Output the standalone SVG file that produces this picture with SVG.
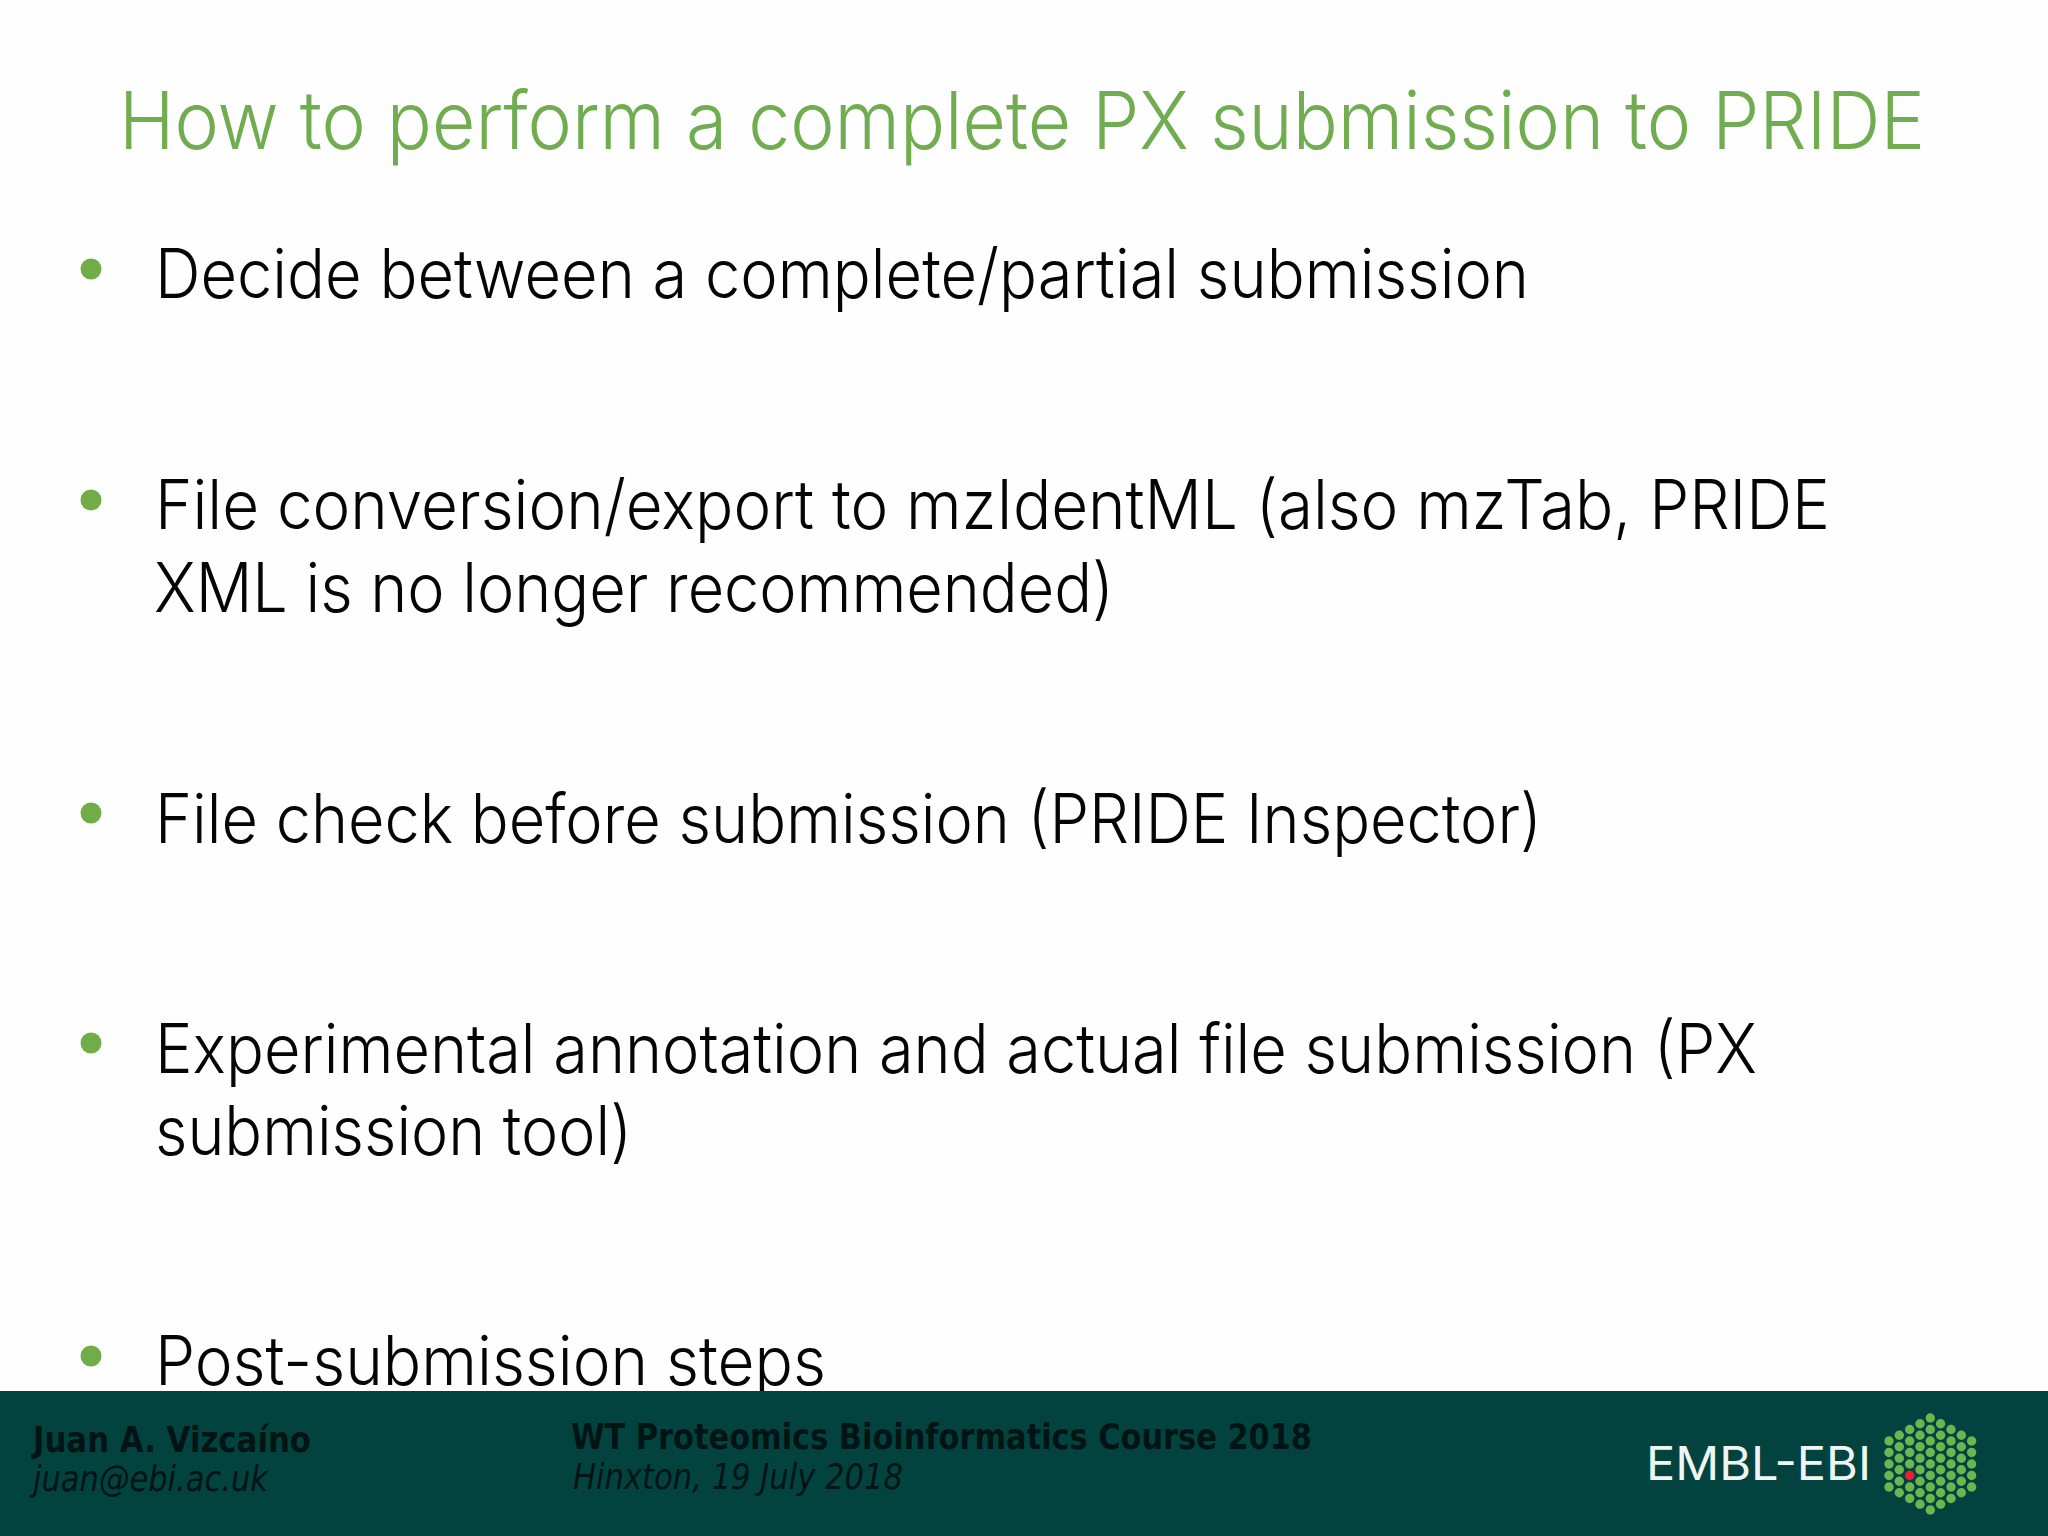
<svg xmlns="http://www.w3.org/2000/svg" xmlns:xlink="http://www.w3.org/1999/xlink" width="2048" height="1536" viewBox="0 0 2048 1536">
<style>
.t{font-family:"Inter","Liberation Sans",sans-serif;font-weight:300}
.title{font-size:80px;fill:#70ad50}
.b{font-size:68px;fill:#050505}
.bu{fill:#70ad47}
.f{font-family:"DejaVu Sans","Liberation Sans",sans-serif;font-size:35px;fill:#001414}
.fb{font-weight:700}
.fi{font-style:italic}
.d{fill:#6cb650}
</style>
<defs><circle id="d" r="4.7"/></defs>
<rect width="2048" height="1536" fill="#fefefe"/>
<text class="t title" x="119" y="149" textLength="1806" lengthAdjust="spacingAndGlyphs">How to perform a complete PX submission to PRIDE</text>
<g id="bullets">
<ellipse class="bu" cx="91" cy="269" rx="10.5" ry="10.5"/>
<ellipse class="bu" cx="91" cy="500" rx="10.5" ry="10.5"/>
<ellipse class="bu" cx="91" cy="813" rx="10.5" ry="10.5"/>
<ellipse class="bu" cx="91" cy="1043" rx="10.5" ry="10.5"/>
<ellipse class="bu" cx="91" cy="1356" rx="10.5" ry="10.5"/>
</g>
<g id="body">
<text class="t b" x="155" y="298" textLength="1374" lengthAdjust="spacingAndGlyphs">Decide between a complete/partial submission</text>
<text class="t b" x="155" y="529" textLength="1675" lengthAdjust="spacingAndGlyphs">File conversion/export to mzIdentML (also mzTab, PRIDE</text>
<text class="t b" x="154" y="612" textLength="960" lengthAdjust="spacingAndGlyphs">XML is no longer recommended)</text>
<text class="t b" x="155" y="843" textLength="1387" lengthAdjust="spacingAndGlyphs">File check before submission (PRIDE Inspector)</text>
<text class="t b" x="155" y="1073" textLength="1602" lengthAdjust="spacingAndGlyphs">Experimental annotation and actual file submission (PX</text>
<text class="t b" x="155" y="1155" textLength="477" lengthAdjust="spacingAndGlyphs">submission tool)</text>
<text class="t b" x="155" y="1385" textLength="671" lengthAdjust="spacingAndGlyphs">Post-submission steps</text>
</g>
<rect id="band" x="0" y="1391" width="2048" height="145" fill="#03433f"/>
<g id="footer">
<text class="f fb" x="33" y="1452" textLength="278" lengthAdjust="spacingAndGlyphs">Juan A. Vizcaíno</text>
<text class="f fi" x="33" y="1491" textLength="235" lengthAdjust="spacingAndGlyphs">juan@ebi.ac.uk</text>
<text class="f fb" x="571" y="1449" textLength="741" lengthAdjust="spacingAndGlyphs">WT Proteomics Bioinformatics Course 2018</text>
<text class="f fi" x="573" y="1489" textLength="330" lengthAdjust="spacingAndGlyphs">Hinxton, 19 July 2018</text>
</g>
<g id="logo">
<text x="1646" y="1480" font-family="Inter, Liberation Sans, sans-serif" font-weight="400" font-size="46" fill="#eef5f3" textLength="225" lengthAdjust="spacingAndGlyphs">EMBL-EBI</text>
<g class="d">
<use xlink:href="#d" x="1889" y="1441"/><use xlink:href="#d" x="1889" y="1452.5"/><use xlink:href="#d" x="1889" y="1464"/><use xlink:href="#d" x="1889" y="1475.5"/><use xlink:href="#d" x="1889" y="1487"/>
<use xlink:href="#d" x="1899.3" y="1435.25"/><use xlink:href="#d" x="1899.3" y="1446.75"/><use xlink:href="#d" x="1899.3" y="1458.25"/><use xlink:href="#d" x="1899.3" y="1469.75"/><use xlink:href="#d" x="1899.3" y="1481.25"/><use xlink:href="#d" x="1899.3" y="1492.75"/>
<use xlink:href="#d" x="1909.7" y="1429.5"/><use xlink:href="#d" x="1909.7" y="1441"/><use xlink:href="#d" x="1909.7" y="1452.5"/><use xlink:href="#d" x="1909.7" y="1464"/><use xlink:href="#d" x="1909.7" y="1487"/><use xlink:href="#d" x="1909.7" y="1498.5"/>
<use xlink:href="#d" x="1920" y="1423.75"/><use xlink:href="#d" x="1920" y="1435.25"/><use xlink:href="#d" x="1920" y="1446.75"/><use xlink:href="#d" x="1920" y="1458.25"/><use xlink:href="#d" x="1920" y="1469.75"/><use xlink:href="#d" x="1920" y="1481.25"/><use xlink:href="#d" x="1920" y="1492.75"/><use xlink:href="#d" x="1920" y="1504.25"/>
<use xlink:href="#d" x="1930.3" y="1418"/><use xlink:href="#d" x="1930.3" y="1429.5"/><use xlink:href="#d" x="1930.3" y="1441"/><use xlink:href="#d" x="1930.3" y="1452.5"/><use xlink:href="#d" x="1930.3" y="1464"/><use xlink:href="#d" x="1930.3" y="1475.5"/><use xlink:href="#d" x="1930.3" y="1487"/><use xlink:href="#d" x="1930.3" y="1498.5"/><use xlink:href="#d" x="1930.3" y="1510"/>
<use xlink:href="#d" x="1940.6" y="1423.75"/><use xlink:href="#d" x="1940.6" y="1435.25"/><use xlink:href="#d" x="1940.6" y="1446.75"/><use xlink:href="#d" x="1940.6" y="1458.25"/><use xlink:href="#d" x="1940.6" y="1469.75"/><use xlink:href="#d" x="1940.6" y="1481.25"/><use xlink:href="#d" x="1940.6" y="1492.75"/><use xlink:href="#d" x="1940.6" y="1504.25"/>
<use xlink:href="#d" x="1951" y="1429.5"/><use xlink:href="#d" x="1951" y="1441"/><use xlink:href="#d" x="1951" y="1452.5"/><use xlink:href="#d" x="1951" y="1464"/><use xlink:href="#d" x="1951" y="1475.5"/><use xlink:href="#d" x="1951" y="1487"/><use xlink:href="#d" x="1951" y="1498.5"/>
<use xlink:href="#d" x="1961.3" y="1435.25"/><use xlink:href="#d" x="1961.3" y="1446.75"/><use xlink:href="#d" x="1961.3" y="1458.25"/><use xlink:href="#d" x="1961.3" y="1469.75"/><use xlink:href="#d" x="1961.3" y="1481.25"/><use xlink:href="#d" x="1961.3" y="1492.75"/>
<use xlink:href="#d" x="1971.6" y="1441"/><use xlink:href="#d" x="1971.6" y="1452.5"/><use xlink:href="#d" x="1971.6" y="1464"/><use xlink:href="#d" x="1971.6" y="1475.5"/><use xlink:href="#d" x="1971.6" y="1487"/>
</g>
<use xlink:href="#d" x="1909.7" y="1475.5" fill="#e8202f"/>
</g>
</svg>
